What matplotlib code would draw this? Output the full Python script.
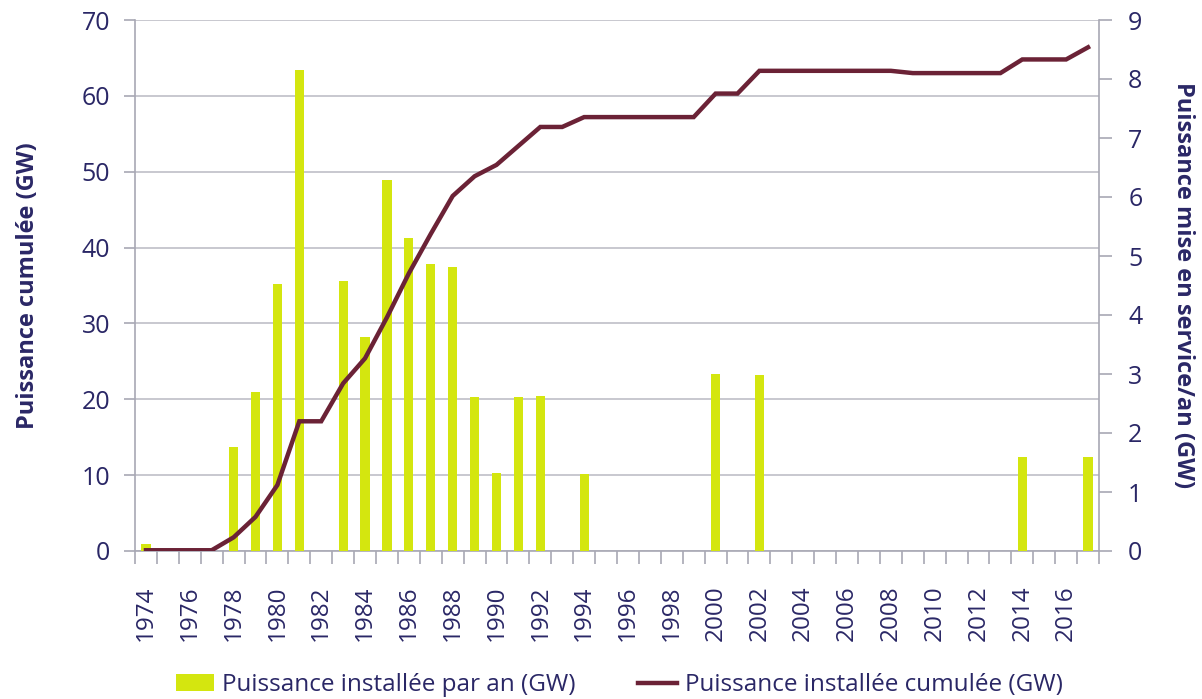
import matplotlib
matplotlib.use("Agg")
import matplotlib.pyplot as plt
import numpy as np

years = list(range(1974, 2018))
annual = [0.12, 0, 0, 0, 1.76, 2.69, 4.52, 8.15, 0, 4.57,
          3.62, 6.29, 5.31, 4.86, 4.82, 2.61, 1.32, 2.61, 2.62, 0,
          1.30, 0, 0, 0, 0, 0, 3.00, 0, 2.98, 0,
          0, 0, 0, 0, 0, 0, 0, 0, 0, 0,
          1.59, 0, 0, 1.59]
cumul = [0.1, 0.1, 0.1, 0.1, 1.8, 4.5, 8.7, 17.1, 17.1, 22.1,
         25.4, 30.8, 36.6, 41.8, 46.8, 49.4, 50.9, 53.4, 55.9, 55.9,
         57.2, 57.2, 57.2, 57.2, 57.2, 57.2, 60.3, 60.3, 63.3, 63.3,
         63.3, 63.3, 63.3, 63.3, 63.3, 63.0, 63.0, 63.0, 63.0, 63.0,
         64.8, 64.8, 64.8, 66.4]
left_ticks = [0, 10, 20, 30, 40, 50, 60, 70]
right_ticks = list(range(0, 10))
year_labels = [str(y) for y in years[::2]]

label_bar = "Puissance installée par an (GW)"
label_line = "Puissance installée cumulée (GW)"
ylabel_left = "Puissance cumulée (GW)"
ylabel_right = "Puissance mise en service/an (GW)"

plt.rcParams['font.family'] = ['Open Sans', 'DejaVu Sans']
TXT = '#2A2766'
AX = '#A8A8B4'
GRID = '#C4C4CC'
BAR = '#D4E60F'
LINE = '#6B2236'

fig = plt.figure(figsize=(12.02, 6.99), dpi=100)
pos = [135/1202, 1-551/699, (1099-135)/1202, (551-20)/699]
ax = fig.add_axes(pos)
x = np.arange(len(years))

ax.set_xlim(-0.5, len(years)-0.5)
ax.set_ylim(0, 70)
ax.set_yticks(left_ticks)
ax.grid(axis='y', color=GRID, lw=1.3)
ax.tick_params(axis='y', colors=AX, labelcolor=TXT, labelsize=18, length=8, width=1.2, pad=10)
ax.set_xticks(x[::2])
ax.set_xticklabels(year_labels, rotation=90)
ax.set_xticks(np.arange(-0.5, len(years)), minor=True)
ax.tick_params(axis='x', which='major', length=0, labelcolor=TXT, labelsize=17.5, pad=25)
ax.tick_params(axis='x', which='minor', length=9, width=1.2, colors=AX)
for s in ['top', 'right']:
    ax.spines[s].set_visible(False)
for s in ['left', 'bottom']:
    ax.spines[s].set_color(AX)
    ax.spines[s].set_linewidth(1.2)
ax.set_ylabel(ylabel_left, fontsize=17, fontweight='bold', color=TXT, labelpad=30)

axb = ax.twinx()
axb.set_ylim(0, 9)
axb.set_yticks(right_ticks)
bars = axb.bar(x, annual, width=0.42, color=BAR, label=label_bar)
axb.tick_params(axis='y', colors=AX, labelcolor=TXT, labelsize=18, length=9, width=1.2, pad=12)
for s in ['top', 'left', 'bottom']:
    axb.spines[s].set_visible(False)
axb.spines['right'].set_color(AX)
axb.spines['right'].set_linewidth(1.2)
axb.set_ylabel(ylabel_right, fontsize=17, fontweight='bold', color=TXT, rotation=270, labelpad=38)

axl = ax.twinx()
axl.set_ylim(0, 70)
line, = axl.plot(x, cumul, color=LINE, lw=3.2, label=label_line, solid_joinstyle='miter')
axl.axis('off')

leg = fig.legend([bars, line], [label_bar, label_line], loc='lower center',
                 bbox_to_anchor=(0.515, -0.029), ncol=2, frameon=False, fontsize=17.5,
                 handlelength=1.6, handletextpad=0.3, columnspacing=2.6)
for t in leg.get_texts():
    t.set_color(TXT)

fig.savefig('out.png', dpi=100)
